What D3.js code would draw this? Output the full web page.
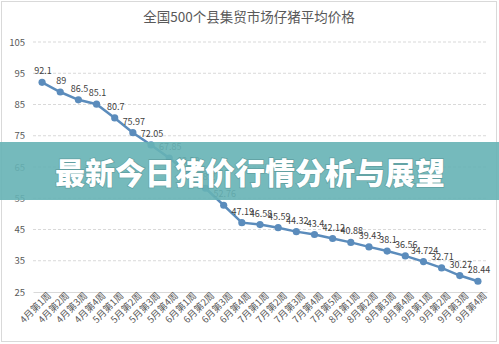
<!DOCTYPE html>
<html>
<head>
<meta charset="utf-8">
<script src="https://cdn.jsdelivr.net/npm/d3@7"></script>
<style>
  html, body { margin: 0; padding: 0; background: #fff; }
  svg { display: block; }
</style>
</head>
<body>
<svg id="chart" width="499" height="344"></svg>
<script>
// Weekly average piglet price, county markets
const weeks = [
  "4月第1周","4月第2周","4月第3周","4月第4周",
  "5月第1周","5月第2周","5月第3周","5月第4周",
  "6月第1周","6月第2周","6月第3周","6月第4周",
  "7月第1周","7月第2周","7月第3周","7月第4周","7月第5周",
  "8月第1周","8月第2周","8月第3周","8月第4周",
  "9月第1周","9月第2周","9月第3周","9月第4周"
];
const prices = [
  92.1, 89, 86.5, 85.1, 80.7, 75.97, 72.05, 67.85, 63.28, 58.2,
  52.76, 47.19, 46.58, 45.59, 44.32, 43.4, 42.12, 40.88, 39.43, 38.1,
  36.56, 34.724, 32.71, 30.27, 28.44
];
const yTicks = [25, 35, 45, 55, 65, 75, 85, 95, 105];
const chartTitle = "全国500个县集贸市场仔猪平均价格";
const bannerText = "最新今日猪价行情分析与展望";

const W = 499, H = 344;
const svg = d3.select("#chart");
const font = "'Noto Sans CJK SC', 'Noto Sans', sans-serif";

// outer frame
svg.append("rect")
  .attr("x", 1.5).attr("y", 1.5).attr("width", W - 4).attr("height", H - 4)
  .attr("fill", "#fff").attr("stroke", "#d9d9d9").attr("stroke-width", 1);

const plot = { left: 33, right: 487, top: 42, bottom: 292 };

const x = d3.scaleBand().domain(weeks).range([plot.left, plot.right]);
const y = d3.scaleLinear().domain([25, 105]).range([plot.bottom, plot.top]);

// title
svg.append("text")
  .attr("x", 249).attr("y", 22)
  .attr("text-anchor", "middle")
  .attr("font-family", font).attr("font-size", 13.5)
  .attr("fill", "#595959")
  .text(chartTitle);

// horizontal gridlines
svg.append("g")
  .selectAll("line")
  .data(yTicks.filter(d => d !== 25))
  .join("line")
  .attr("x1", plot.left).attr("x2", plot.right)
  .attr("y1", d => y(d)).attr("y2", d => y(d))
  .attr("stroke", "#d9d9d9").attr("stroke-dasharray", "3,2");

// y axis
const yAxis = svg.append("g")
  .attr("transform", `translate(${plot.left},0)`)
  .call(d3.axisLeft(y).tickValues(yTicks).tickSize(0).tickPadding(8));
yAxis.select(".domain").remove();
yAxis.selectAll("text")
  .attr("font-family", font).attr("font-size", 9.5).attr("fill", "#595959");

// x axis
const xAxis = svg.append("g")
  .attr("transform", `translate(0,${plot.bottom})`)
  .call(d3.axisBottom(x).tickSize(0).tickPadding(4));
xAxis.select(".domain").attr("stroke", "#d9d9d9");
xAxis.selectAll("text")
  .attr("font-family", font).attr("font-size", 9.5).attr("fill", "#595959")
  .attr("text-anchor", "end")
  .attr("dx", "0.4em").attr("dy", "0.6em")
  .attr("transform", "rotate(-45)");

// price line
const line = d3.line()
  .x((d, i) => x(weeks[i]) + x.bandwidth() / 2)
  .y(d => y(d));

svg.append("path")
  .datum(prices)
  .attr("d", line)
  .attr("fill", "none")
  .attr("stroke", "#5b8cbc")
  .attr("stroke-width", 2.5);

svg.append("g")
  .selectAll("circle")
  .data(prices)
  .join("circle")
  .attr("cx", (d, i) => x(weeks[i]) + x.bandwidth() / 2)
  .attr("cy", d => y(d))
  .attr("r", 3.6)
  .attr("fill", "#5b8cbc");

// value labels
svg.append("g")
  .selectAll("text")
  .data(prices)
  .join("text")
  .attr("x", (d, i) => x(weeks[i]) + x.bandwidth() / 2 + 1)
  .attr("y", d => y(d) - 8)
  .attr("text-anchor", "middle")
  .attr("font-family", font).attr("font-size", 9)
  .attr("fill", "#404040")
  .text(d => d);

// headline banner across the chart
svg.append("rect")
  .attr("x", 0).attr("y", 142).attr("width", W).attr("height", 58)
  .attr("fill", "#66b2b5").attr("fill-opacity", 0.9);

svg.append("text")
  .attr("x", 250).attr("y", 184)
  .attr("text-anchor", "middle")
  .attr("font-family", font).attr("font-size", 30).attr("font-weight", 900)
  .attr("fill", "#ffffff")
  .style("paint-order", "stroke")
  .attr("stroke", "rgba(60,110,110,0.35)").attr("stroke-width", 1.5)
  .text(bannerText);
</script>
</body>
</html>
